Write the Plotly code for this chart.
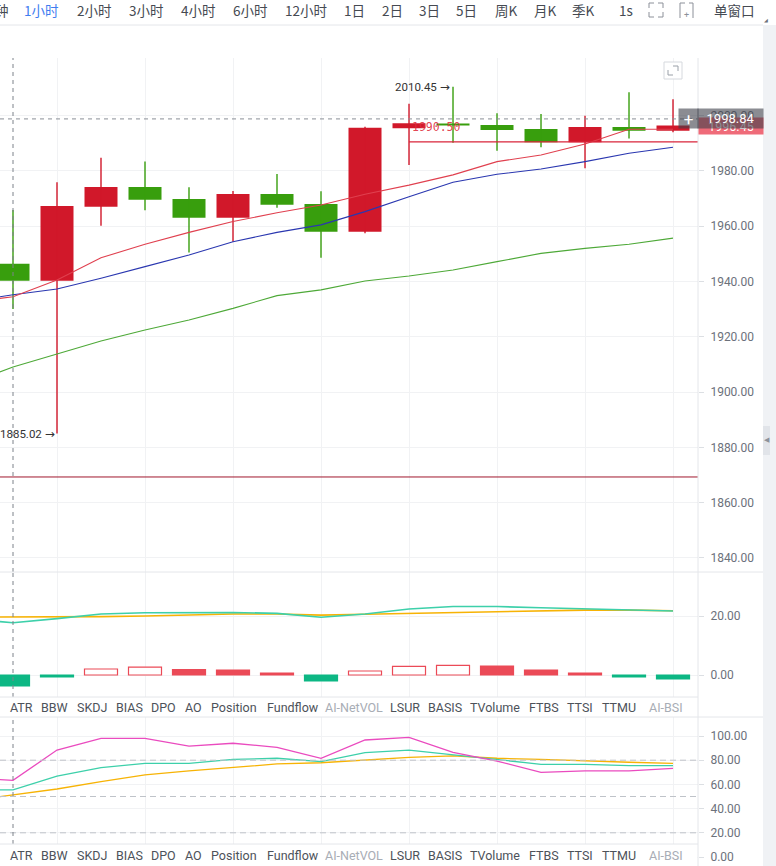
import plotly.graph_objects as go

W, H = 776, 866
PR = 698  # right edge of plotting column (px)


def X(px):
    return px / W


def Y(py):
    return 1 - py / H


# ---------------- data ----------------
candle_idx = list(range(16))
opens = [1946.4, 1940.3, 1967.1, 1974.2, 1969.9, 1963.1, 1971.7, 1968.1,
         1958.0, 1995.5, 1997.2, 1996.6, 1995.2, 1990.4, 1995.9, 1994.6]
closes = [1940.3, 1967.3, 1974.2, 1969.6, 1963.1, 1971.7, 1967.8, 1958.0,
          1995.6, 1997.3, 1996.5, 1994.8, 1990.4, 1995.9, 1994.6, 1996.45]
highs = [1965.9, 1975.9, 1984.8, 1983.4, 1974.1, 1972.8, 1978.9, 1972.7,
         1996.0, 2004.3, 2010.45, 2000.9, 2000.6, 2000.0, 2008.5, 2006.0]
lows = [1930.1, 1885.02, 1960.2, 1965.8, 1950.5, 1954.4, 1966.7, 1948.6,
        1957.5, 1982.2, 1990.2, 1987.3, 1988.6, 1981.0, 1991.8, 1994.0]

line_idx = list(range(-1, 16))
ma_red = [1932.5, 1934.5, 1940.6, 1948.6, 1953.5, 1957.8, 1961.7, 1964.9, 1967.7,
          1971.6, 1974.9, 1978.6, 1983.4, 1985.8, 1989.8, 1995.1, 1995.1]
ma_blue = [1932.8, 1935.2, 1937.3, 1941.2, 1945.4, 1949.6, 1954.4, 1957.8, 1960.5,
           1965.3, 1970.7, 1975.9, 1978.8, 1980.7, 1983.4, 1986.4, 1988.6]
ma_green = [1903.0, 1909.1, 1913.8, 1918.5, 1922.5, 1926.1, 1930.3, 1934.9, 1937.0,
            1940.2, 1942.0, 1944.2, 1947.2, 1950.2, 1952.0, 1953.5, 1955.7]

macd_dif = [19.05, 17.7, 19.1, 20.7, 21.1, 21.1, 21.2, 20.9, 19.6,
            20.7, 22.4, 23.2, 23.2, 22.8, 22.5, 22.0, 21.7]
macd_dea = [19.6, 19.6, 19.6, 19.8, 20.0, 20.3, 20.7, 20.7, 20.3,
            20.6, 20.9, 21.2, 21.5, 21.8, 22.0, 22.0, 21.8]
macd_hist = [-3.73, -0.68, 2.03, 2.7, 1.8, 1.7, 0.68, -2.03,
             1.36, 2.94, 3.28, 3.05, 1.7, 0.68, -0.68, -1.36]

kdj_k = [65.5, 63.3, 88.4, 98.1, 98.1, 91.7, 94.0, 90.6, 81.6,
         96.7, 98.9, 86.5, 79.3, 70.0, 71.1, 71.1, 73.3]
kdj_d = [55.4, 55.4, 66.9, 73.8, 77.4, 77.4, 80.7, 81.6, 78.8,
         86.2, 88.4, 84.3, 80.7, 76.6, 76.6, 75.5, 75.5]
kdj_j = [46.5, 51.2, 56.2, 62.3, 67.8, 71.1, 74.1, 76.9, 77.9,
         80.2, 82.4, 83.5, 81.6, 80.7, 79.3, 78.3, 77.4]

price_ticks = [1840, 1860, 1880, 1900, 1920, 1940, 1960, 1980, 2000]
macd_ticks = [0, 20]
kdj_ticks = [0, 20, 40, 60, 80, 100]
kdj_levels = [80, 50, 20]

toolbar_items = ["钟", "1小时", "2小时", "3小时", "4小时", "6小时", "12小时", "1日", "2日",
                 "3日", "5日", "周K", "月K", "季K", "1s", "单窗口"]
toolbar_x = [2, 41, 94, 146, 198, 250, 306, 354, 392, 429, 466, 506, 545, 583, 626, 734]

tab_labels = ["ATR", "BBW", "SKDJ", "BIAS", "DPO", "AO", "Position", "Fundflow",
              "AI-NetVOL", "LSUR", "BASIS", "TVolume", "FTBS", "TTSI", "TTMU", "AI-BSI"]
tab_x = [21.5, 54.5, 91.5, 129, 163, 193.5, 234.5, 292.5, 354, 405, 445.5,
         495.5, 543.5, 579.5, 619, 665.5]
tab_dim = {"AI-NetVOL", "AI-BSI"}

high_label = 2010.45
low_label = 1885.02
order_line = 1990.50
hline_price = 1869.3
cross_price = 1998.84
last_price = 1996.45

# ---------------- styles ----------------
RED = "#d1182a"
GREEN = "#389e0d"
MRED = "#eb4a57"
MGREEN = "#0db784"
TEAL = "#3dd0aa"
ORANGE = "#f7b305"
PINK = "#ea4bbf"
GRID = "#f1f2f4"
SEP = "#e4e6ea"
TICKC = "#6c717b"
FONT = "Roboto"

XR = [-0.2955, 15.568]

fig = go.Figure()

# candle bodies
body_base = [min(o, c) for o, c in zip(opens, closes)]
body_h = [max(abs(c - o), 0.5) for o, c in zip(opens, closes)]
body_col = [RED if c >= o else GREEN for o, c in zip(opens, closes)]
fig.add_trace(go.Bar(x=candle_idx, y=body_h, base=body_base, width=0.75,
                     marker=dict(color=body_col, line=dict(width=0)),
                     xaxis="x", yaxis="y", hoverinfo="skip"))
# wicks
for col in (RED, GREEN):
    wx, wy = [], []
    for i, o, c, h, l in zip(candle_idx, opens, closes, highs, lows):
        if (RED if c >= o else GREEN) == col:
            wx += [i, i, None]
            wy += [l, h, None]
    fig.add_trace(go.Scatter(x=wx, y=wy, mode="lines", line=dict(color=col, width=1.4),
                             xaxis="x", yaxis="y", hoverinfo="skip"))

for vals, col in ((ma_green, "#4ea938"), (ma_blue, "#2a37b0"), (ma_red, "#e0404f")):
    fig.add_trace(go.Scatter(x=line_idx, y=vals, mode="lines",
                             line=dict(color=col, width=1.1),
                             xaxis="x", yaxis="y", hoverinfo="skip"))

# MACD
hist_fill, hist_line = [], []
for k, v in enumerate(macd_hist):
    prev = macd_hist[k - 1] if k > 0 else v
    if v >= 0:
        hist_line.append(MRED)
        hist_fill.append("white" if (v > prev) else MRED)
    else:
        hist_line.append(MGREEN)
        hist_fill.append(MGREEN)
fig.add_trace(go.Bar(x=candle_idx, y=macd_hist, width=0.75,
                     marker=dict(color=hist_fill, line=dict(color=hist_line, width=1.2)),
                     xaxis="x2", yaxis="y2", hoverinfo="skip"))
fig.add_trace(go.Scatter(x=line_idx, y=macd_dea, mode="lines", line=dict(color=ORANGE, width=1.6),
                         xaxis="x2", yaxis="y2", hoverinfo="skip"))
fig.add_trace(go.Scatter(x=line_idx, y=macd_dif, mode="lines", line=dict(color=TEAL, width=1.6),
                         xaxis="x2", yaxis="y2", hoverinfo="skip"))

# KDJ
for vals, col in ((kdj_j, ORANGE), (kdj_d, TEAL), (kdj_k, PINK)):
    fig.add_trace(go.Scatter(x=line_idx, y=vals, mode="lines", line=dict(color=col, width=1.3),
                             xaxis="x3", yaxis="y3", hoverinfo="skip"))

xcommon = dict(range=XR, tickvals=list(range(1, 16, 2)), showticklabels=False, ticks="",
               showgrid=True, gridcolor=GRID, gridwidth=1, zeroline=False, showline=False,
               domain=[0, X(PR)], fixedrange=True)
ycommon = dict(side="right", ticks="outside", ticklen=5, tickcolor="#dcdfe3",
               ticklabelstandoff=4,
               tickfont=dict(family=FONT, size=12, color=TICKC), showgrid=True,
               gridcolor=GRID, zeroline=False, showline=False, fixedrange=True)

fig.update_layout(
    width=W, height=H, margin=dict(l=0, r=0, t=0, b=0),
    paper_bgcolor="white", plot_bgcolor="white", showlegend=False,
    barmode="overlay", font=dict(family=FONT),
    xaxis=dict(anchor="y", **xcommon),
    xaxis2=dict(anchor="y2", **xcommon),
    xaxis3=dict(anchor="y3", **xcommon),
    yaxis=dict(anchor="x", domain=[Y(572), Y(58)], range=[1834.92, 2020.88],
               tickvals=price_ticks, ticktext=[f"{v:.2f}" for v in price_ticks], **ycommon),
    yaxis2=dict(anchor="x2", domain=[Y(697), Y(572)], range=[-7.46, 34.92],
                tickvals=macd_ticks, ticktext=[f"{v:.2f}" for v in macd_ticks], **ycommon),
    yaxis3=dict(anchor="x3", domain=[0, Y(717)], range=[-7.44, 115.7],
                tickvals=kdj_ticks, ticktext=[f"{v:.2f}" for v in kdj_ticks], **ycommon),
)

shapes = []
# KDJ dashed levels
for lv in kdj_levels:
    shapes.append(dict(type="line", xref="paper", yref="y3", x0=0, x1=X(PR), y0=lv, y1=lv,
                       line=dict(color="#bfc3c9", width=1, dash="6px,4px")))
# horizontal drawn line
shapes.append(dict(type="line", xref="paper", yref="y", x0=0, x1=X(PR), y0=hline_price, y1=hline_price,
                   line=dict(color="#a0172d", width=1)))
# order line
shapes.append(dict(type="line", xref="x", yref="y", x0=9, x1=XR[1], y0=order_line, y1=order_line,
                   line=dict(color="#d9253a", width=1.2)))
# crosshair
shapes.append(dict(type="line", xref="paper", yref="y", x0=0, x1=X(PR), y0=cross_price, y1=cross_price,
                   line=dict(color="#8a8e96", width=1, dash="4px,4px")))
for yr0, yr1 in ((Y(572), Y(58)), (Y(697), Y(572)), (Y(844), Y(717))):
    shapes.append(dict(type="line", xref="x", yref="paper", x0=0, x1=0, y0=yr0, y1=yr1,
                       line=dict(color="#7d828a", width=1, dash="4px,4px")))
# bottom tab row cover
shapes.append(dict(type="rect", xref="paper", yref="paper", x0=0, x1=X(PR - 0.5), y0=0, y1=Y(844),
                   fillcolor="white", line=dict(width=0), layer="above"))
# separators
for py, x1 in ((25, 763), (572, 763), (697, PR), (717, 763), (844, PR)):
    shapes.append(dict(type="line", xref="paper", yref="paper", x0=0, x1=X(x1), y0=Y(py), y1=Y(py),
                       line=dict(color=SEP, width=1), layer="above"))
shapes.append(dict(type="line", xref="paper", yref="paper", x0=X(PR), x1=X(PR), y0=0, y1=Y(58),
                   line=dict(color=SEP, width=1), layer="above"))
# right strip
shapes.append(dict(type="rect", xref="paper", yref="paper", x0=X(763), x1=1, y0=0, y1=Y(25),
                   fillcolor="#f0f2f5", line=dict(width=0), layer="above"))
shapes.append(dict(type="rect", xref="paper", yref="paper", x0=X(763), x1=X(770), y0=Y(455), y1=Y(426),
                   fillcolor="#e1e4e9", line=dict(width=0), layer="above"))
# small icon top right of chart
shapes.append(dict(type="rect", xref="paper", yref="paper", x0=X(664), x1=X(682), y0=Y(79), y1=Y(62),
                   fillcolor="white", line=dict(color="#d6d9de", width=1), layer="above"))
for path in ("M {a},{b} L {c},{b} L {c},{d}".format(a=X(673), b=Y(66), c=X(678), d=Y(71)),
             "M {a},{b} L {a},{d} L {c},{d}".format(a=X(668), b=Y(70), c=X(673), d=Y(75))):
    shapes.append(dict(type="path", xref="paper", yref="paper", path=path,
                       line=dict(color="#9aa0a8", width=1), layer="above"))
# toolbar icons
exp = [(649, 8, 649, 3, 654, 3), (658, 3, 663, 3, 663, 8), (649, 12, 649, 17, 654, 17),
       (658, 17, 663, 17, 663, 12)]
for p in exp:
    shapes.append(dict(type="path", xref="paper", yref="paper",
                       path="M {},{} L {},{} L {},{}".format(X(p[0]), Y(p[1]), X(p[2]), Y(p[3]), X(p[4]), Y(p[5])),
                       line=dict(color="#8c9099", width=1), layer="above"))
shapes.append(dict(type="path", xref="paper", yref="paper",
                   path="M {},{} L {},{} L {},{}".format(X(685), Y(3), X(680), Y(3), X(680), Y(18)),
                   line=dict(color="#8c9099", width=1), layer="above"))
shapes.append(dict(type="path", xref="paper", yref="paper",
                   path="M {},{} L {},{} L {},{}".format(X(689), Y(3), X(693), Y(3), X(693), Y(18)),
                   line=dict(color="#8c9099", width=1), layer="above"))
fig.update_layout(shapes=shapes)

C = dict(xanchor="center", yanchor="middle", showarrow=False)
ARROW = " <span style='font-family:DejaVu Sans;font-size:12px'>→</span>"
ann = []
for t, x in zip(toolbar_items, toolbar_x):
    ann.append(dict(text=t, xref="paper", yref="paper", x=X(x), y=Y(10),
                    font=dict(family="Noto Sans CJK SC", size=13.5,
                              color="#3f7df0" if t == "1小时" else "#454a52"), **C))
ann.append(dict(text="+", xref="paper", yref="paper", x=X(686.5), y=Y(15),
                font=dict(size=9, color="#8c9099"), **C))
ann.append(dict(text="◢", xref="paper", yref="paper", x=X(766), y=Y(20),
                font=dict(size=5, color="#6c717b"), **C))
for rowy in (707, 855):
    for t, x in zip(tab_labels, tab_x):
        ann.append(dict(text=t, xref="paper", yref="paper", x=X(x), y=Y(rowy),
                        font=dict(family=FONT, size=12.5, color="#a8adb5" if t in tab_dim else "#4d525a"), **C))
ann.append(dict(text=f"{high_label:.2f}" + ARROW, xref="x", yref="y", x=10, y=high_label, showarrow=False,
                xanchor="right", yanchor="middle", xshift=-1, font=dict(family=FONT, size=11.5, color="#333")))
ann.append(dict(text=f"{low_label:.2f}" + ARROW, xref="x", yref="y", x=1, y=low_label, showarrow=False,
                xanchor="right", yanchor="middle", xshift=0, font=dict(family=FONT, size=11.5, color="#333")))
ann.append(dict(text=f"{order_line:.2f}", xref="x", yref="y", x=9, y=order_line, showarrow=False,
                xanchor="left", yanchor="bottom", xshift=1, yshift=6,
                font=dict(family="DejaVu Sans Mono", size=11.5, color="rgba(222,45,60,0.9)")))
ann.append(dict(text="◀", xref="paper", yref="paper", x=X(766.5), y=Y(440),
                font=dict(size=7, color="#8d929b"), **C))
ann.append(dict(text=f"{last_price:.2f}", xref="paper", yref="y", x=X(731), y=last_price,
                width=64, height=16, bgcolor="#ef6b79", borderpad=0,
                font=dict(family=FONT, size=12.5, color="white"), **C))
ann.append(dict(text=f"{cross_price:.2f}", xref="paper", yref="y", x=X(730.5), y=cross_price,
                width=65, height=19, bgcolor="rgba(62,64,74,0.6)", borderpad=0,
                font=dict(family=FONT, size=13, color="white"), **C))
ann.append(dict(text="+", xref="paper", yref="y", x=X(688.5), y=cross_price,
                width=19, height=19, bgcolor="rgba(62,64,74,0.6)", borderpad=0,
                font=dict(family=FONT, size=17, color="white"), **C))
fig.update_layout(annotations=ann)

fig.write_html("out.html", config={"displayModeBar": False, "staticPlot": True},
               post_script="document.body.style.margin='0';document.body.style.overflow='hidden';")
